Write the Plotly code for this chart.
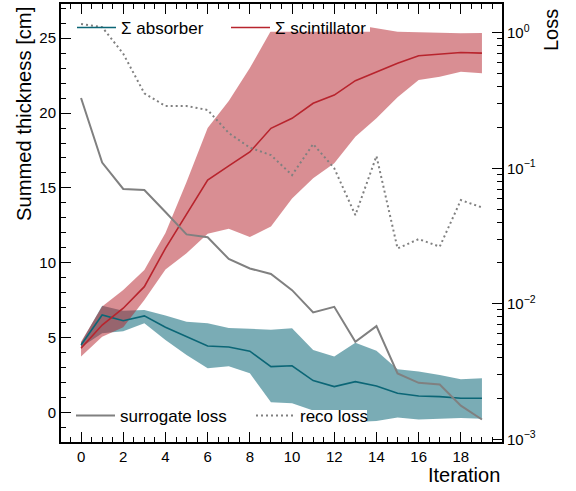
import plotly.graph_objects as go

# ---------------- data ----------------
iterations = list(range(20))

absorber_mean = [4.52, 6.52, 6.14, 6.46, 5.70, 5.07, 4.45, 4.38, 4.10, 3.07,
                 3.13, 2.14, 1.74, 2.07, 1.78, 1.29, 1.11, 1.07, 0.96, 0.96]
absorber_upper = [4.67, 7.14, 6.81, 6.86, 6.48, 6.07, 5.97, 5.65, 5.60, 5.54,
                  5.63, 4.19, 3.74, 4.67, 4.14, 2.90, 2.74, 2.52, 2.23, 2.30]
absorber_lower = [4.36, 5.30, 5.44, 5.97, 4.85, 3.85, 2.96, 3.10, 2.63, 0.70,
                  0.63, 0.15, -0.30, -0.63, -0.55, -0.33, -0.45, -0.40, -0.36, -0.40]

scint_mean = [4.30, 5.85, 6.97, 8.41, 10.97, 13.26, 15.53, 16.47, 17.40, 18.98,
              19.65, 20.65, 21.20, 22.16, 22.76, 23.32, 23.83, 23.93, 24.04, 24.00]
scint_upper = [4.74, 7.08, 8.19, 9.53, 12.00, 15.40, 19.00, 20.80, 23.00, 25.50,
               25.90, 25.95, 25.95, 25.90, 25.66, 25.43, 25.40, 25.35, 25.33, 25.35]
scint_lower = [3.74, 5.07, 5.70, 7.52, 9.55, 10.64, 11.95, 12.27, 11.73, 12.42,
               14.30, 15.65, 16.65, 18.42, 19.65, 21.05, 22.20, 22.43, 22.76, 22.66]

surrogate_loss = [0.33, 0.110, 0.0703, 0.069, 0.0475, 0.0325, 0.031, 0.0214, 0.0182, 0.0166,
                  0.0126, 0.00863, 0.0095, 0.00524, 0.00684, 0.00306, 0.00261, 0.00254, 0.00177, 0.0014]
reco_loss = [1.16, 1.10, 0.70, 0.357, 0.288, 0.288, 0.269, 0.182, 0.142, 0.125,
             0.089, 0.151, 0.100, 0.0451, 0.123, 0.0256, 0.030, 0.0264, 0.0582, 0.0514]

x_ticks = [0, 2, 4, 6, 8, 10, 12, 14, 16, 18]
loss_tickvals = [1, 0.1, 0.01, 0.001]
loss_ticktext = ["10<sup>0</sup>", "10<sup>\u22121</sup>", "10<sup>\u22122</sup>", "10<sup>\u22123</sup>"]
loss_minor = [m * 10 ** e for e in (-3, -2, -1, 0) for m in range(2, 10)]

# ---------------- style ----------------
TEAL_LINE = "#0b6676"
TEAL_FILL = "rgba(0,95,113,0.52)"
RED_LINE = "#b8242d"
RED_FILL = "rgba(179,29,39,0.5)"
GRAY = "#808080"
FONT = "Liberation Sans"

W, H = 576, 491
ML, MR, MT, MB = 61, 74, 4, 49
PW, PH = W - ML - MR, H - MT - MB


def px_x(p):
    return (p - ML) / PW


def px_y(p):
    return (H - MB - p) / PH


fig = go.Figure()


def band(x, lo, hi, color):
    return go.Scatter(x=list(x) + list(x)[::-1], y=list(hi) + list(lo)[::-1],
                      fill="toself", fillcolor=color, line=dict(width=0),
                      mode="lines", hoverinfo="skip", showlegend=False)


fig.add_trace(band(iterations, absorber_lower, absorber_upper, TEAL_FILL))
fig.add_trace(band(iterations, scint_lower, scint_upper, RED_FILL))
fig.add_trace(go.Scatter(x=iterations, y=absorber_mean, mode="lines",
                         line=dict(color=TEAL_LINE, width=1.6),
                         name="\u03a3 absorber", legend="legend"))
fig.add_trace(go.Scatter(x=iterations, y=scint_mean, mode="lines",
                         line=dict(color=RED_LINE, width=1.6),
                         name="\u03a3 scintillator", legend="legend2"))
fig.add_trace(go.Scatter(x=iterations, y=surrogate_loss, mode="lines", yaxis="y2",
                         line=dict(color=GRAY, width=2),
                         name="surrogate loss", legend="legend3"))
fig.add_trace(go.Scatter(x=iterations, y=reco_loss, mode="lines", yaxis="y2",
                         line=dict(color=GRAY, width=2, dash="2px,3px"),
                         name="reco loss", legend="legend3"))

axis_common = dict(showgrid=False, zeroline=False, showline=True, linecolor="black",
                   linewidth=2, ticks="inside", tickcolor="black", tickwidth=1.3,
                   automargin=False,
                   tickfont=dict(family=FONT, size=15, color="black"))

# white legend-frame patches (the legend boxes hide the bands beneath them)
legend_frames = [
    dict(type="rect", xref="paper", yref="paper", layer="above",
         x0=px_x(225), x1=px_x(370), y0=px_y(31.7), y1=px_y(16),
         fillcolor="white", line=dict(width=0)),
    dict(type="rect", xref="paper", yref="paper", layer="above",
         x0=px_x(296), x1=px_x(367), y0=px_y(430), y1=px_y(410),
         fillcolor="white", line=dict(width=0)),
]

leg_font = dict(family=FONT, size=17, color="black")

fig.update_layout(
    width=W, height=H,
    margin=dict(l=ML, r=MR, t=MT, b=MB, autoexpand=False),
    paper_bgcolor="white", plot_bgcolor="white",
    font=dict(family=FONT, color="black"),
    xaxis=dict(range=[-0.95, 19.95], tickvals=x_ticks, ticklen=10, mirror="ticks",
               minor=dict(dtick=0.5, ticklen=5, ticks="inside", tickcolor="black", tickwidth=1.1),
               **axis_common),
    yaxis=dict(range=[-1.96, 27.28], dtick=5, ticklen=10,
               minor=dict(dtick=1, ticklen=5, ticks="inside", tickcolor="black", tickwidth=1.1),
               **axis_common),
    yaxis2=dict(type="log", overlaying="y", side="right", range=[-3.02, 0.212],
                tickvals=loss_tickvals, ticktext=loss_ticktext, ticklen=10,
                minor=dict(tickvals=loss_minor, ticklen=5, ticks="inside", tickcolor="black", tickwidth=1.1),
                **axis_common),
    shapes=legend_frames,
    legend=dict(x=px_x(72), y=px_y(28), xanchor="left", yanchor="middle", orientation="h",
                itemwidth=39, bgcolor="rgba(255,255,255,0)", font=leg_font),
    legend2=dict(x=px_x(226), y=px_y(28), xanchor="left", yanchor="middle", orientation="h",
                 itemwidth=39, bgcolor="rgba(255,255,255,0)", font=leg_font),
    legend3=dict(x=px_x(71), y=px_y(416), xanchor="left", yanchor="middle", orientation="h",
                 itemwidth=39, bgcolor="rgba(255,255,255,0)", font=leg_font,
                 entrywidth=126, entrywidthmode="pixels"),
    annotations=[
        dict(text="Summed thickness [cm]", textangle=-90, xref="paper", yref="paper",
             x=px_x(24), y=px_y(5), xanchor="center", yanchor="top", showarrow=False,
             font=dict(family=FONT, size=20.2)),
        dict(text="Loss", textangle=-90, xref="paper", yref="paper",
             x=px_x(551), y=px_y(7), xanchor="center", yanchor="top", showarrow=False,
             font=dict(family=FONT, size=20)),
        dict(text="Iteration", xref="paper", yref="paper",
             x=px_x(502), y=px_y(475), xanchor="right", yanchor="middle", showarrow=False,
             font=dict(family=FONT, size=20)),
    ],
)

fig.write_html("out.html", config={"displayModeBar": False},
               post_script="document.body.style.margin='0';")
